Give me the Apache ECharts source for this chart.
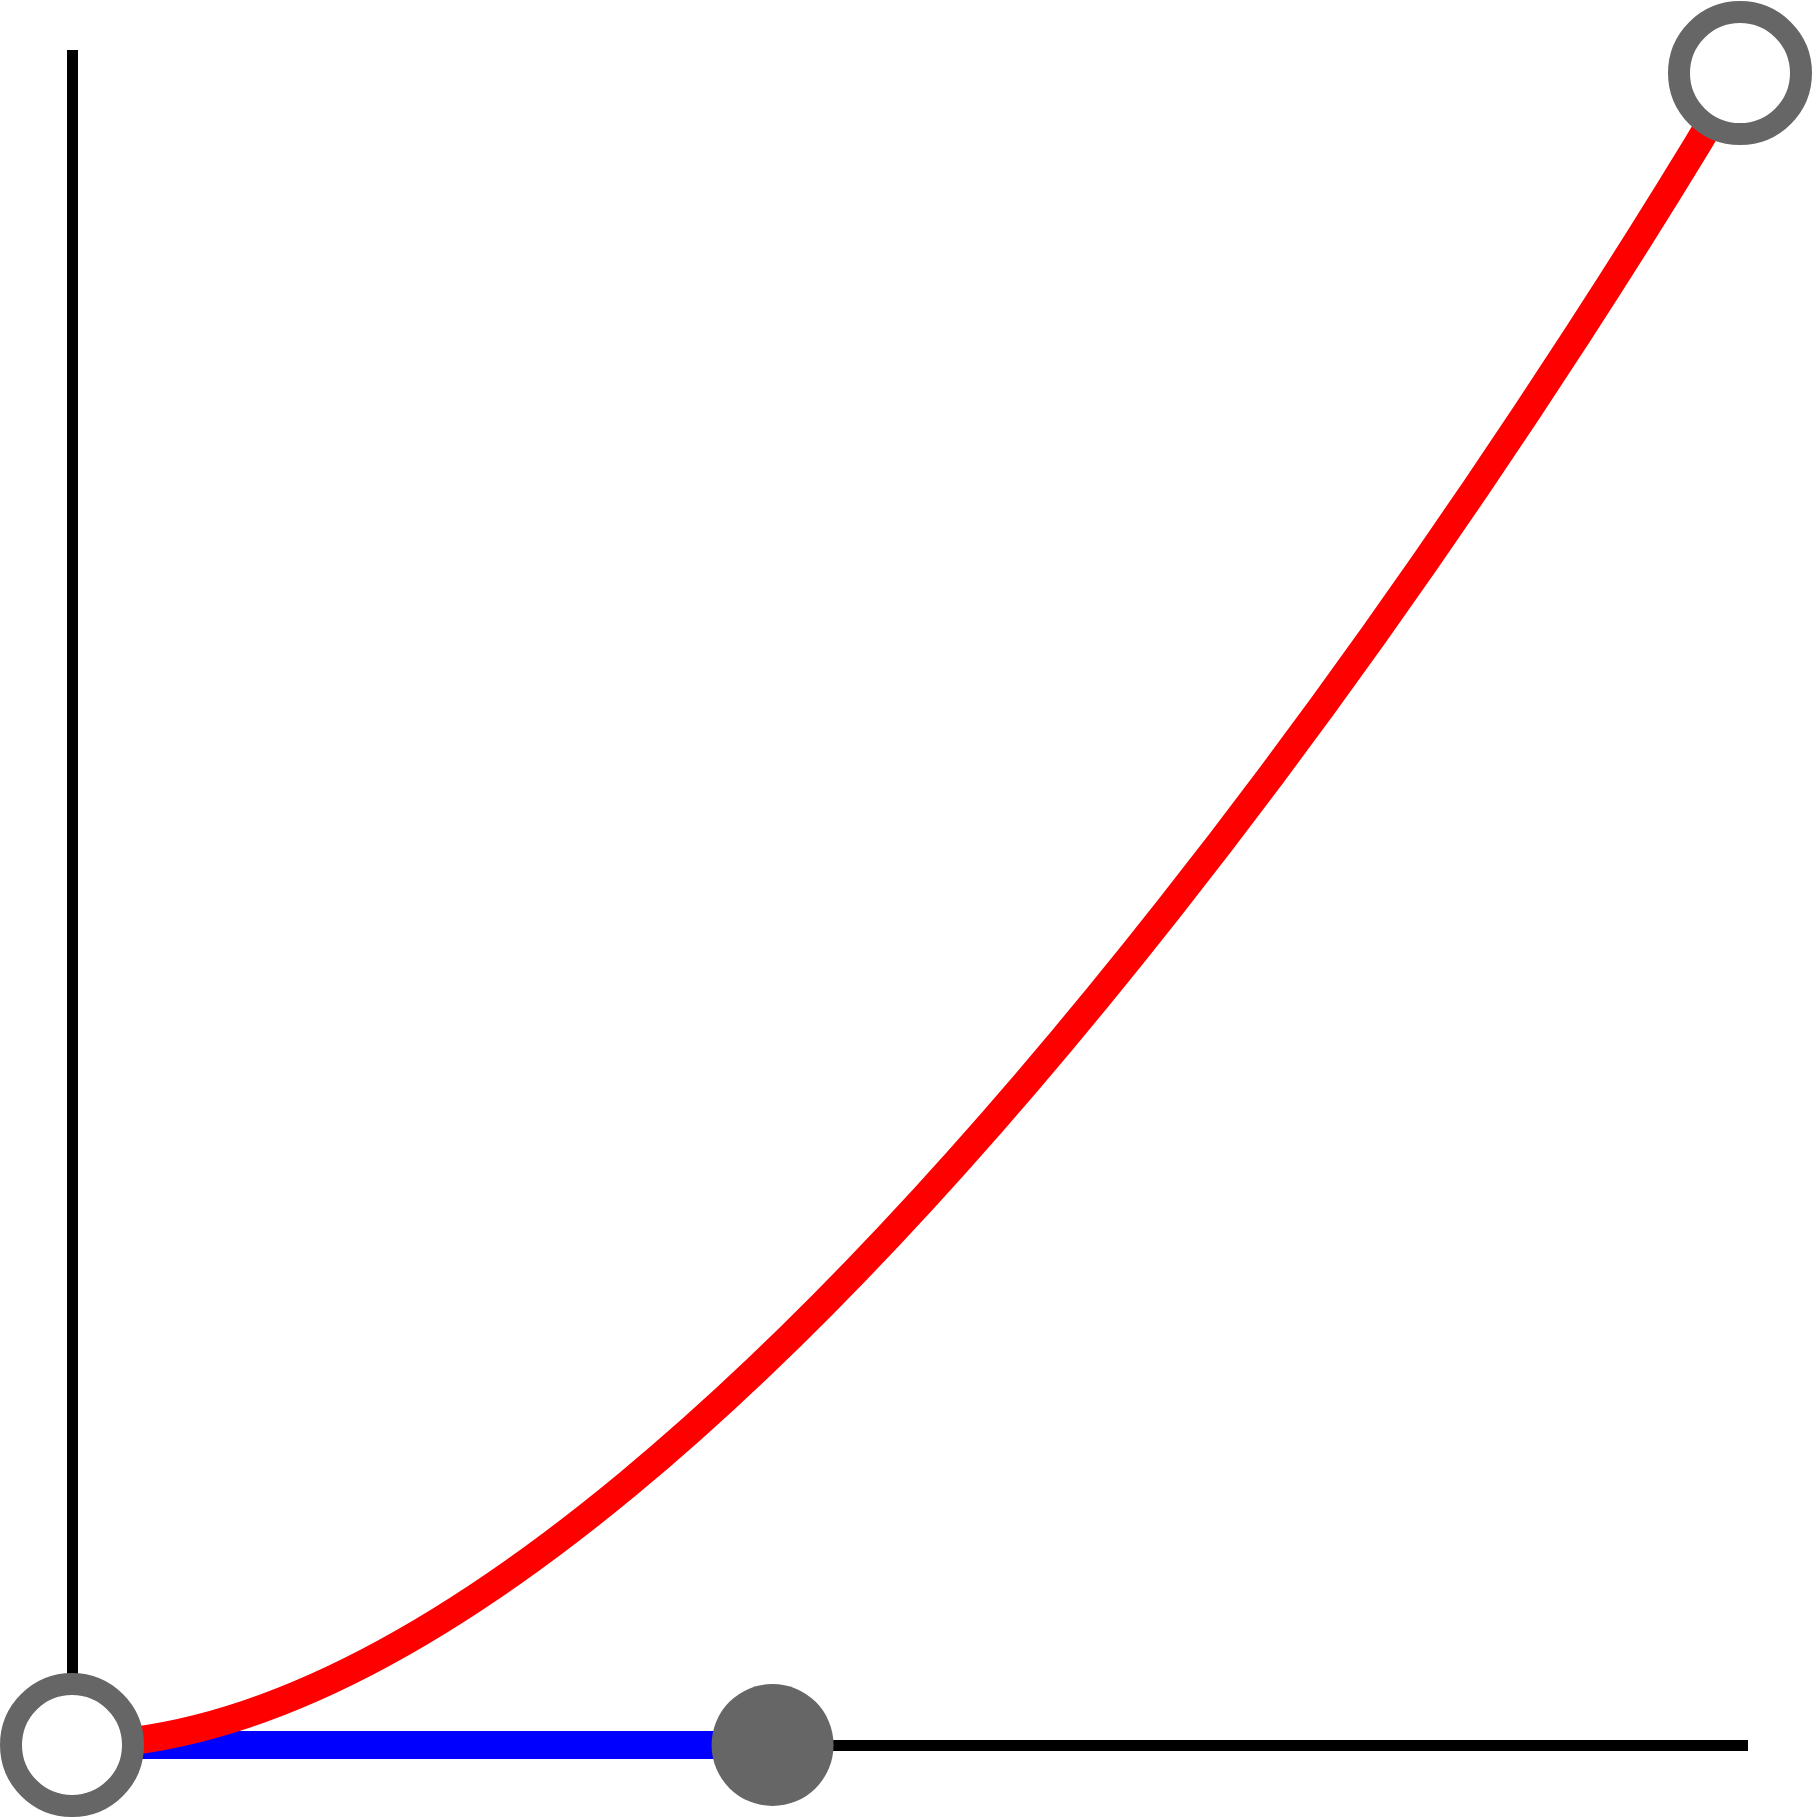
<!DOCTYPE html>
<html>
<head>
<meta charset="utf-8">
<script src="https://cdn.jsdelivr.net/npm/echarts@6/dist/echarts.min.js"></script>
<style>
html,body{margin:0;padding:0;background:#fff;}
#chart{width:1813px;height:1818px;}
</style>
</head>
<body>
<div id="chart"></div>
<script>
// Cubic Bézier "ease-in": cubic-bezier(0.42, 0, 1, 1)
var startPoint = [0, 0];
var control1 = [0.42, 0];
var control2 = [1, 1];
var endPoint = [1, 1];
var hollowPoints = [startPoint, endPoint];
var filledPoints = [control1];
var handleLine = [startPoint, control1];
var curveData = [[startPoint[0], startPoint[1], control1[0], control1[1], control2[0], control2[1], endPoint[0], endPoint[1]]];
var xAxisMax = 1.0048;
var yAxisMax = 1.0138;

var chart = echarts.init(document.getElementById('chart'), null, {renderer: 'canvas'});
chart.setOption({
  backgroundColor: '#ffffff',
  animation: false,
  grid: {left: 72, right: 65, top: 50, bottom: 73, containLabel: false},
  xAxis: {
    type: 'value', min: 0, max: xAxisMax,
    axisLine: {show: true, onZero: false, lineStyle: {color: '#000', width: 11, cap: 'butt', opacity: 1}},
    axisTick: {show: false}, axisLabel: {show: false}, splitLine: {show: false}
  },
  yAxis: {
    type: 'value', min: 0, max: yAxisMax,
    axisLine: {show: true, onZero: false, lineStyle: {color: '#000', width: 11, cap: 'butt', opacity: 1}},
    axisTick: {show: false}, axisLabel: {show: false}, splitLine: {show: false}
  },
  series: [
    {
      type: 'line', data: handleLine, z: 2, clip: false,
      showSymbol: false, symbol: 'none',
      lineStyle: {color: '#0000ff', width: 28, cap: 'butt', opacity: 1}
    },
    {
      type: 'custom', z: 3, clip: false,
      data: curveData,
      renderItem: function (params, api) {
        var p0 = api.coord([api.value(0), api.value(1)]);
        var c1 = api.coord([api.value(2), api.value(3)]);
        var c2 = api.coord([api.value(4), api.value(5)]);
        var p3 = api.coord([api.value(6), api.value(7)]);
        return {
          type: 'bezierCurve',
          shape: {x1: p0[0], y1: p0[1], cpx1: c1[0], cpy1: c1[1], cpx2: c2[0], cpy2: c2[1], x2: p3[0], y2: p3[1]},
          style: {stroke: '#ff0000', lineWidth: 28, fill: null, opacity: 1}
        };
      }
    },
    {
      type: 'scatter', z: 4, clip: false,
      data: filledPoints, symbol: 'circle', symbolSize: 122,
      itemStyle: {color: '#666666', opacity: 1}
    },
    {
      type: 'scatter', z: 5, clip: false,
      data: hollowPoints, symbol: 'circle', symbolSize: 122,
      itemStyle: {color: '#ffffff', borderColor: '#666666', borderWidth: 22, opacity: 1}
    }
  ]
});
</script>
</body>
</html>
